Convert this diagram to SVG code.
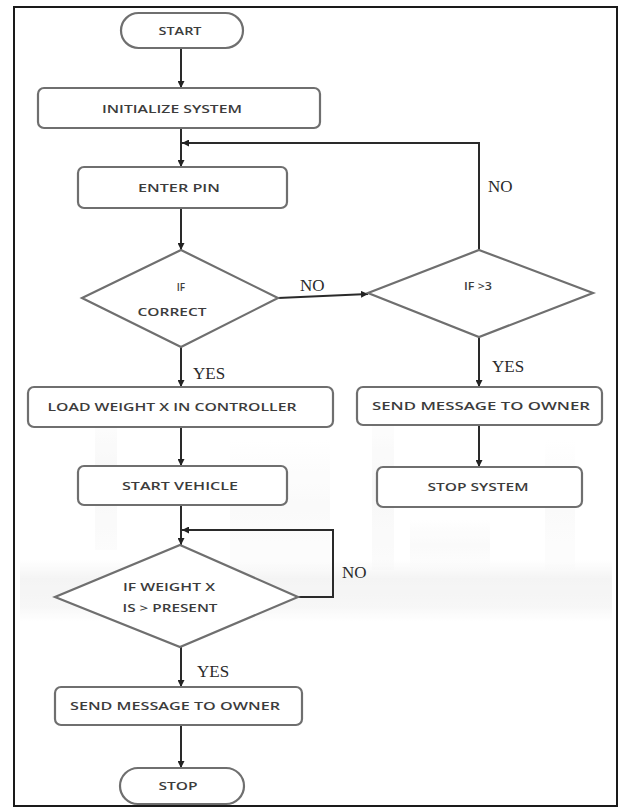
<svg xmlns="http://www.w3.org/2000/svg" width="622" height="807" viewBox="0 0 622 807">
  <defs>
    <marker id="ah" viewBox="0 0 10 10" refX="10" refY="5" markerWidth="7" markerHeight="7" markerUnits="userSpaceOnUse" orient="auto">
      <path d="M0,0 L10,5 L0,10 z" fill="#222"/>
    </marker>
    <linearGradient id="band" x1="0" y1="0" x2="0" y2="1">
      <stop offset="0" stop-color="#efefef" stop-opacity="0"/>
      <stop offset="0.3" stop-color="#ececec" stop-opacity="0.8"/>
      <stop offset="0.75" stop-color="#efefef" stop-opacity="0.7"/>
      <stop offset="1" stop-color="#f4f4f4" stop-opacity="0"/>
    </linearGradient>
    <linearGradient id="vbar" x1="0" y1="0" x2="0" y2="1">
      <stop offset="0" stop-color="#f1f1f1" stop-opacity="0"/>
      <stop offset="0.5" stop-color="#f0f0f0" stop-opacity="0.7"/>
      <stop offset="1" stop-color="#f1f1f1" stop-opacity="0.3"/>
    </linearGradient>
  </defs>
  <style>
    .shape { fill: #ffffff; stroke: #6f6f6f; stroke-width: 2.2; }
    .t { font-family: "Open Sans", "Liberation Sans", sans-serif; font-size: 10px; font-weight: 600; fill: #3c3c3c; text-anchor: middle; }
    .lbl { font-family: "Liberation Serif", "DejaVu Serif", serif; font-size: 17px; fill: #2a2a2a; }
    .ca { fill: none; stroke: #2a2a2a; stroke-width: 2; marker-end: url(#ah); }
  </style>
  <rect x="0" y="0" width="622" height="807" fill="#ffffff"/>
  <g id="watermark" opacity="0.7">
    <rect x="20" y="560" width="592" height="62" fill="url(#band)"/>
    <rect x="95" y="400" width="22" height="150" fill="url(#vbar)"/>
    <rect x="230" y="440" width="100" height="130" fill="url(#vbar)" opacity="0.6"/>
    <rect x="372" y="400" width="22" height="170" fill="url(#vbar)"/>
    <rect x="410" y="520" width="80" height="50" fill="url(#vbar)" opacity="0.6"/>
    <rect x="545" y="440" width="30" height="130" fill="url(#vbar)" opacity="0.6"/>
  </g>
  <rect id="frame" x="14" y="7" width="603" height="799" fill="none" stroke="#1a1a1a" stroke-width="2"/>

  <g id="connectors">
    <path class="ca" d="M181,48 L181,88"/>
    <path class="ca" d="M181,128 L181,167"/>
    <path class="ca" d="M479,250 L479,143 L182,143"/>
    <path class="ca" d="M181,208 L181,250"/>
    <path class="ca" d="M278,298 L368,294"/>
    <path class="ca" d="M181,347 L181,387"/>
    <path class="ca" d="M479,337 L479,387"/>
    <path class="ca" d="M479,425 L479,467"/>
    <path class="ca" d="M181,427 L181,466"/>
    <path class="ca" d="M181,505 L181,545"/>
    <path class="ca" d="M298,597 L333,597 L333,530 L182,530"/>
    <path class="ca" d="M181,647 L181,687"/>
    <path class="ca" d="M181,725 L181,768"/>
  </g>

  <g id="start">
    <rect class="shape" x="121" y="13" width="122" height="35" rx="17.5"/>
    <text class="t" x="180" y="35" textLength="43" lengthAdjust="spacingAndGlyphs">START</text>
  </g>
  <g id="init">
    <rect class="shape" x="38" y="88" width="282" height="40" rx="6"/>
    <text class="t" x="172" y="113" textLength="140" lengthAdjust="spacingAndGlyphs">INITIALIZE  SYSTEM</text>
  </g>
  <g id="enterpin">
    <rect class="shape" x="78" y="167" width="209" height="41" rx="6"/>
    <text class="t" x="179" y="192" textLength="82" lengthAdjust="spacingAndGlyphs">ENTER  PIN</text>
  </g>
  <g id="ifcorrect">
    <polygon class="shape" points="181,250 278,298 181,347 82,298"/>
    <text class="t" x="181" y="291" font-size="8">IF</text>
    <text class="t" x="172" y="316" textLength="69" lengthAdjust="spacingAndGlyphs">CORRECT</text>
  </g>
  <g id="ifgt3">
    <polygon class="shape" points="479,250 593,293 479,337 368,293"/>
    <text class="t" x="478" y="290" textLength="28" lengthAdjust="spacingAndGlyphs">IF &gt;3</text>
  </g>
  <g id="loadweight">
    <rect class="shape" x="28" y="387" width="305" height="40" rx="6"/>
    <text class="t" x="172" y="411" textLength="249" lengthAdjust="spacingAndGlyphs">LOAD WEIGHT X IN CONTROLLER</text>
  </g>
  <g id="sendowner1">
    <rect class="shape" x="357" y="387" width="245" height="38" rx="6"/>
    <text class="t" x="481" y="410" textLength="218" lengthAdjust="spacingAndGlyphs">SEND MESSAGE  TO OWNER</text>
  </g>
  <g id="startvehicle">
    <rect class="shape" x="78" y="466" width="209" height="39" rx="6"/>
    <text class="t" x="180" y="490" textLength="116" lengthAdjust="spacingAndGlyphs">START  VEHICLE</text>
  </g>
  <g id="stopsystem">
    <rect class="shape" x="377" y="467" width="205" height="40" rx="6"/>
    <text class="t" x="478" y="491" textLength="101" lengthAdjust="spacingAndGlyphs">STOP  SYSTEM</text>
  </g>
  <g id="ifweight">
    <polygon class="shape" points="180,545 298,597 180,647 55,597"/>
    <text class="t" x="169" y="591" textLength="92" lengthAdjust="spacingAndGlyphs">IF WEIGHT X</text>
    <text class="t" x="170" y="612" textLength="95" lengthAdjust="spacingAndGlyphs">IS &gt; PRESENT</text>
  </g>
  <g id="sendowner2">
    <rect class="shape" x="55" y="687" width="247" height="38" rx="6"/>
    <text class="t" x="175" y="710" textLength="210" lengthAdjust="spacingAndGlyphs">SEND MESSAGE  TO OWNER</text>
  </g>
  <g id="stop">
    <rect class="shape" x="120" y="768" width="124" height="36" rx="18"/>
    <text class="t" x="178" y="790" textLength="39" lengthAdjust="spacingAndGlyphs">STOP</text>
  </g>

  <g id="labels">
    <text class="lbl" x="488" y="192">NO</text>
    <text class="lbl" x="300" y="291">NO</text>
    <text class="lbl" x="193" y="379">YES</text>
    <text class="lbl" x="492" y="372">YES</text>
    <text class="lbl" x="342" y="578">NO</text>
    <text class="lbl" x="197" y="677">YES</text>
  </g>
</svg>
